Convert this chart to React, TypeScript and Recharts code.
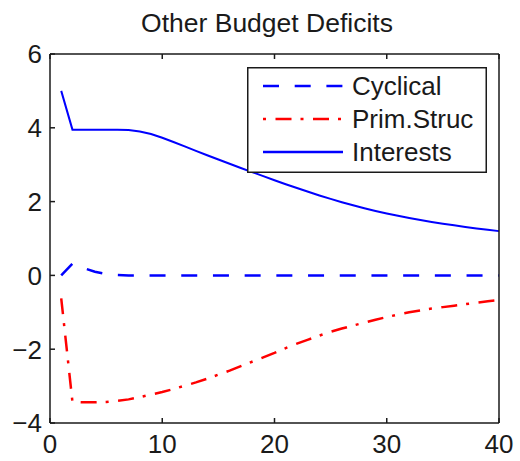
import { Customized, Legend, Line, LineChart, XAxis, YAxis } from "recharts"

const periods = [
  1, 2, 3, 4, 5, 6, 7, 8, 9, 10, 11, 12, 13, 14, 15, 16, 17, 18, 19, 20,
  21, 22, 23, 24, 25, 26, 27, 28, 29, 30, 31, 32, 33, 34, 35, 36, 37, 38, 39, 40,
]
const cyclical = [
  0, 0.32, 0.2, 0.1, 0.04, 0.01, 0, 0, 0, 0, 0, 0, 0, 0, 0, 0, 0, 0, 0, 0,
  0, 0, 0, 0, 0, 0, 0, 0, 0, 0, 0, 0, 0, 0, 0, 0, 0, 0, 0, 0,
]
const primStruc = [
  -0.62, -3.43, -3.44, -3.44, -3.43, -3.4, -3.36, -3.3, -3.23, -3.16,
  -3.08, -2.99, -2.9, -2.8, -2.69, -2.58, -2.46, -2.34, -2.22, -2.1,
  -1.97, -1.85, -1.74, -1.63, -1.53, -1.44, -1.36, -1.28, -1.2, -1.13,
  -1.06, -1.0, -0.95, -0.9, -0.86, -0.82, -0.78, -0.74, -0.7, -0.67,
]
const interests = [
  5.0, 3.95, 3.95, 3.95, 3.95, 3.95, 3.94, 3.9, 3.83, 3.73,
  3.615, 3.495, 3.375, 3.257, 3.14, 3.025, 2.912, 2.8, 2.69, 2.58,
  2.472, 2.367, 2.265, 2.167, 2.073, 1.984, 1.9, 1.821, 1.747, 1.678,
  1.614, 1.555, 1.5, 1.449, 1.401, 1.356, 1.314, 1.274, 1.236, 1.2,
]
const xTicks = [0, 10, 20, 30, 40]
const yTicks = [-4, -2, 0, 2, 4, 6]

const data = periods.map((t, i) => ({
  t,
  cyclical: cyclical[i],
  primStruc: primStruc[i],
  interests: interests[i],
}))

const FONT = '"Liberation Sans", Arial, sans-serif'
const INK = "#1a1a1a"
const BLUE = "#0000ff"
const RED = "#ff0000"
const DASH = "16 15.7"
const DASHDOT = "16 9 3 9.5"
const fmt = (v: number) => (v < 0 ? "\u2212" + Math.abs(v) : String(v))

const BottomTick = (p: any) => (
  <g>
    <line x1={p.x} x2={p.x} y1={p.y} y2={p.y - 5} stroke={INK} strokeWidth={1.5} />
    <text x={p.x} y={p.y + 12} dy="0.71em" textAnchor="middle" fontSize={26} fontFamily={FONT} fill={INK}>
      {fmt(p.payload.value)}
    </text>
  </g>
)
const TopTick = (p: any) => (
  <line x1={p.x} x2={p.x} y1={p.y} y2={p.y + 5} stroke={INK} strokeWidth={1.5} />
)
const LeftTick = (p: any) => (
  <g>
    <line x1={p.x} x2={p.x + 5} y1={p.y} y2={p.y} stroke={INK} strokeWidth={1.5} />
    <text x={p.x - 8} y={p.y} dy="0.36em" textAnchor="end" fontSize={26} fontFamily={FONT} fill={INK}>
      {fmt(p.payload.value)}
    </text>
  </g>
)
const RightTick = (p: any) => (
  <line x1={p.x} x2={p.x - 5} y1={p.y} y2={p.y} stroke={INK} strokeWidth={1.5} />
)

const legendRows = [
  { name: "Cyclical", color: BLUE, dash: DASH, width: 2.5 },
  { name: "Prim.Struc", color: RED, dash: "3 9.5 16 9", width: 2.5 },
  { name: "Interests", color: BLUE, dash: undefined, width: 2.5 },
]

const LegendBox = () => (
  <svg width={240} height={106} style={{ display: "block" }}>
    <rect x={0.75} y={0.75} width={238.5} height={104.5} fill="#fff" stroke={INK} strokeWidth={1.5} />
    {legendRows.map((r, i) => {
      const cy = 19 + i * 33
      return (
        <g key={r.name}>
          <line x1={16} x2={96} y1={cy} y2={cy} stroke={r.color} strokeWidth={r.width} strokeDasharray={r.dash} />
          <text x={105} y={cy} dy="0.36em" fontSize={26} fontFamily={FONT} fill={INK}>
            {r.name}
          </text>
        </g>
      )
    })}
  </svg>
)

const Title = () => (
  <text x={267} y={32} textAnchor="middle" fontSize={26.5} fontFamily={FONT} fill={INK}>
    Other Budget Deficits
  </text>
)

export default function App() {
  return (
    <div style={{ position: "absolute", left: 0, top: 0, width: 520, height: 461, background: "#fff", fontFamily: FONT }}>
      <LineChart width={520} height={461} data={data} margin={{ top: 0, right: 0, bottom: 0, left: 0 }}>
        <XAxis
          xAxisId="bottom"
          dataKey="t"
          type="number"
          domain={[0, 40]}
          ticks={xTicks}
          height={38}
          tickSize={0}
          tickMargin={0}
          tickLine={false}
          tick={BottomTick}
          axisLine={{ stroke: INK, strokeWidth: 1.5 }}
          interval={0}
        />
        <XAxis
          xAxisId="top"
          orientation="top"
          dataKey="t"
          type="number"
          domain={[0, 40]}
          ticks={xTicks}
          height={54}
          tickSize={0}
          tickMargin={0}
          tickLine={false}
          tick={TopTick}
          axisLine={{ stroke: INK, strokeWidth: 1.5 }}
          interval={0}
        />
        <YAxis
          yAxisId="left"
          type="number"
          domain={[-4, 6]}
          ticks={yTicks}
          width={50}
          tickSize={0}
          tickMargin={0}
          tickLine={false}
          tick={LeftTick}
          axisLine={{ stroke: INK, strokeWidth: 1.5 }}
          interval={0}
        />
        <YAxis
          yAxisId="right"
          orientation="right"
          type="number"
          domain={[-4, 6]}
          ticks={yTicks}
          width={21}
          tickSize={0}
          tickMargin={0}
          tickLine={false}
          tick={RightTick}
          axisLine={{ stroke: INK, strokeWidth: 1.5 }}
          interval={0}
        />
        <Line
          xAxisId="bottom"
          yAxisId="left"
          type="linear"
          dataKey="cyclical"
          stroke={BLUE}
          strokeWidth={2.5}
          strokeDasharray={DASH}
          dot={false}
          isAnimationActive={false}
        />
        <Line
          xAxisId="bottom"
          yAxisId="left"
          type="linear"
          dataKey="primStruc"
          stroke={RED}
          strokeWidth={2.5}
          strokeDasharray={DASHDOT}
          dot={false}
          isAnimationActive={false}
        />
        <Line
          xAxisId="bottom"
          yAxisId="left"
          type="linear"
          dataKey="interests"
          stroke={BLUE}
          strokeWidth={2}
          dot={false}
          isAnimationActive={false}
        />
        <Legend
          layout="vertical"
          align="center"
          verticalAlign="middle"
          wrapperStyle={{ left: 247, top: 67, width: 240, height: 106 }}
          content={() => <LegendBox />}
        />
        <Customized component={Title} />
      </LineChart>
    </div>
  )
}
